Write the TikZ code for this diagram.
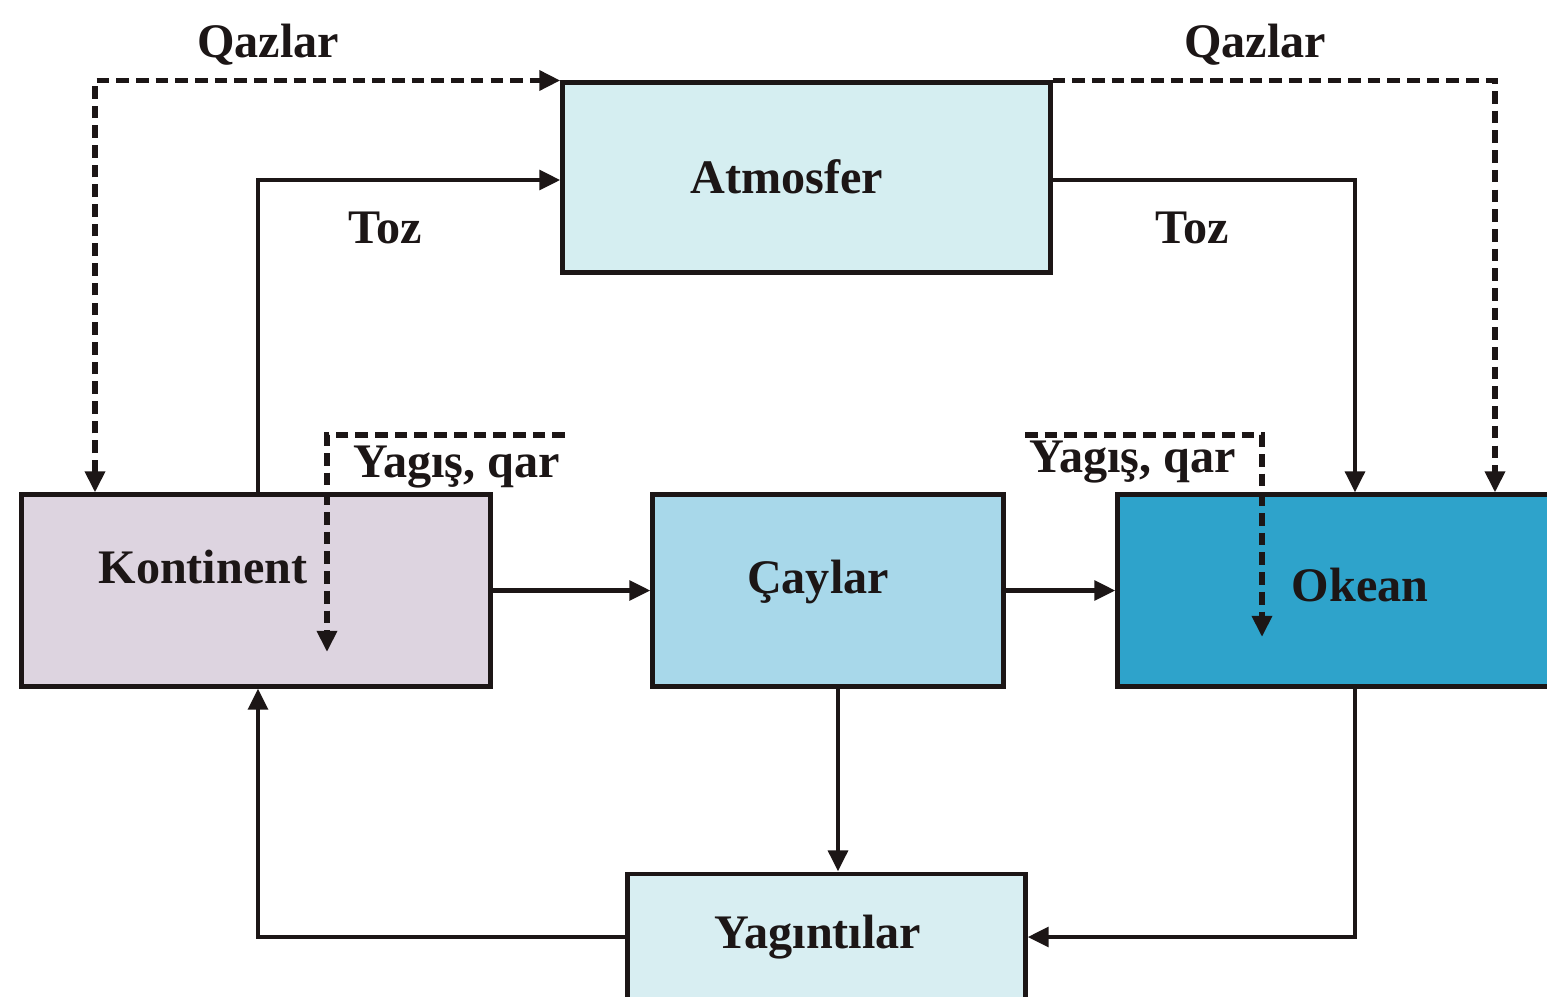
\documentclass[tikz,border=0pt]{standalone}
\usepackage{fontspec}
\setmainfont{Liberation Serif}
\usetikzlibrary{arrows.meta}
\definecolor{ink}{HTML}{1C1616}
\definecolor{atmfill}{HTML}{D5EEF1}
\definecolor{konfill}{HTML}{DDD4E0}
\definecolor{cayfill}{HTML}{A8D8EA}
\definecolor{okefill}{HTML}{2EA3CB}
\definecolor{yagfill}{HTML}{D8EEF2}
\tikzset{
  box/.style={draw=ink, line width=1.4pt, rectangle, inner sep=0pt},
  txt/.style={font=\fontsize{13.7}{16}\selectfont\bfseries, text=ink, inner sep=1pt},
  tip/.style={-{Triangle[length=6pt,width=5.5pt]}},
  flow/.style={draw=ink, line width=1.4pt, tip},
  gas/.style={flow, line width=1.6pt, dash pattern=on 3.6pt off 2pt},
}
\begin{document}
\begin{tikzpicture}[x=0.01cm,y=-0.01cm]
\useasboundingbox (0,0) rectangle (1547,996);
\clip (0,0) rectangle (1547,996);
\fill[white] (0,0) rectangle (1547,996);

% boxes
\node[box, fill=atmfill, minimum width=4.87cm, minimum height=1.89cm] (Atm) at (806.5,177.5) {};
\node[box, fill=konfill, minimum width=4.68cm, minimum height=1.91cm] (Kon) at (256,590.5) {};
\node[box, fill=cayfill, minimum width=3.50cm, minimum height=1.91cm] (Cay) at (828,590.5) {};
\node[box, fill=okefill, minimum width=4.50cm, minimum height=1.91cm] (Oke) at (1343,590.5) {};
\node[box, fill=yagfill, minimum width=3.97cm, minimum height=1.26cm] (Yag) at (826.5,937) {};

% box titles
\node[txt] at (787,177) {Atmosfer};
\node[txt] at (203,567) {Kontinent};
\node[txt] at (818,582) {Çaylar};
\node[txt] at (1360,585) {Okean};
\node[txt] at (818,937) {Yagıntılar};

% reference points for the routed connectors
\coordinate (qL) at (95,83);
\coordinate (qR) at (1495,83);
\coordinate (tL) at (258,180);
\coordinate (tR) at (1355,180);
\coordinate (vC) at (838,0);
\coordinate (kB) at (258,0);
\coordinate (oB) at (1355,0);
\coordinate (yLs) at (565,435);
\coordinate (yLe) at (327,652);
\coordinate (yRs) at (1025,435);
\coordinate (yRe) at (1262,637);

% gases (dashed)
\draw[gas, {Triangle[length=6pt,width=5.5pt]}-{Triangle[length=6pt,width=5.5pt]}]
  (Kon.north -| qL) |- (Atm.north west);
\draw[gas] (Atm.north east) -| (Oke.north -| qR);
\node[txt] at (268,45) {Qazlar};
\node[txt] at (1255,45) {Qazlar};

% dust
\draw[flow] (Kon.north -| tL) |- (Atm.west |- tL);
\draw[flow] (Atm.east |- tR) -| (Oke.north -| tR);
\node[txt] at (385,228) {Toz};
\node[txt] at (1192,228) {Toz};

% precipitation, snow
\draw[gas] (yLs) -| (yLe);
\draw[gas] (yRs) -| (yRe);
\node[txt] at (457,467) {Yagış, qar};
\node[txt] at (1133,462) {Yagış, qar};

% runoff and sediments
\draw[flow] (Kon.east) -- (Cay.west);
\draw[flow] (Cay.east) -- (Oke.west);
\draw[flow] (Cay.south -| vC) -- (Yag.north -| vC);
\draw[flow] (Oke.south -| oB) |- (Yag.east);
\draw[flow] (Yag.west) -| (Kon.south -| kB);
\end{tikzpicture}
\end{document}
